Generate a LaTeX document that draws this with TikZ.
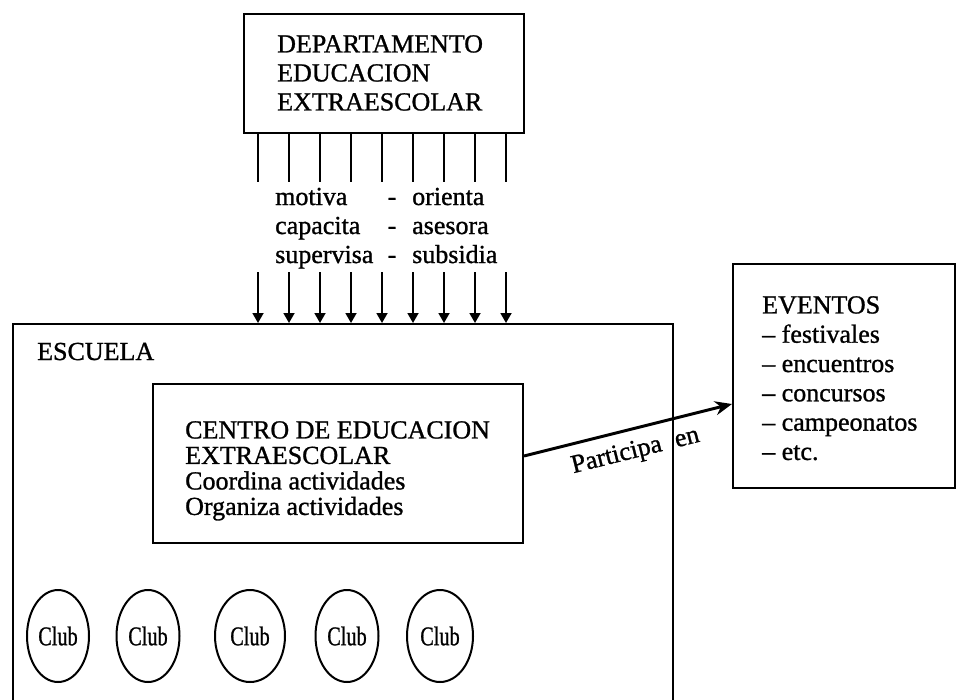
\documentclass[tikz,border=0pt]{standalone}
\usepackage{fontspec}
\setmainfont{Liberation Serif}
\newfontfamily\scanfont{Liberation Serif}[Ligatures=TeX,FakeBold=1]
\usetikzlibrary{arrows.meta,shapes.geometric}
\begin{document}
\begin{tikzpicture}[x=1pt,y=-1pt,
  frame/.style={draw, line width=2pt, rectangle, anchor=north west, inner sep=0pt},
  txt/.style={inner sep=0pt, align=left, font=\scanfont\fontsize{26}{29}\selectfont},
  club/.style={draw, ellipse, line width=2pt, inner sep=0pt, font=\scanfont\fontsize{27}{27}\selectfont},
  feed/.style={line width=1.8pt},
  push/.style={line width=1.8pt, -{Triangle[length=10pt,width=11pt]}},
  part/.style={line width=3pt, -{Stealth[length=17pt,width=14pt]}}
]
\clip (0,0) rectangle (957,699);
\fill[white] (0,0) rectangle (957,699);

% boxes
\node[frame, minimum width=280pt, minimum height=119pt] (dep) at (243,13) {};
\node[frame, minimum width=660pt, minimum height=500pt] (escuela) at (12,323) {};
\node[frame, minimum width=370pt, minimum height=159pt] (centro) at (152,383) {};
\node[frame, minimum width=222pt, minimum height=224pt] (eventos) at (732,263) {};

% texts
\node[txt, anchor=north west] (deptxt) at (277,35) {DEPARTAMENTO\\EDUCACION\\EXTRAESCOLAR};
\node[txt, anchor=base west] (esctxt) at (37,360) {ESCUELA};
\node[txt, anchor=north west, font=\scanfont\fontsize{26}{25.5}\selectfont] (centxt) at (185,421)
  {CENTRO DE EDUCACION\\EXTRAESCOLAR\\Coordina actividades\\Organiza actividades};
\node[txt, anchor=north west, font=\scanfont\fontsize{26}{29.3}\selectfont] (evtxt) at (762,296)
  {EVENTOS\\– festivales\\– encuentros\\– concursos\\– campeonatos\\– etc.};

\foreach \l/\r/\y [count=\k] in {motiva/orienta/205, capacita/asesora/234, supervisa/subsidia/263} {
  \node[txt, anchor=base west] (l\k) at (275,\y) {\l};
  \node[txt, anchor=base] (d\k) at (392,\y) {-};
  \node[txt, anchor=base west] (r\k) at (412,\y) {\r};
}

% feed lines and arrows
\foreach \x [count=\k] in {258,289,320,351,382,413,444,475,506} {
  \coordinate (f\k) at (\x,182);
  \coordinate (s\k) at (\x,272);
  \draw[feed] (dep.south -| f\k) -- (f\k);
  \draw[push] (s\k) -- (s\k |- escuela.north);
}

% participa arrow
\coordinate (pa) at (0,456);
\coordinate (pb) at (0,404);
\draw[part] (centro.east |- pa) -- (eventos.west |- pb)
  node[pos=0.51, below=10pt, sloped, inner sep=0pt, font=\scanfont\fontsize{26}{29}\selectfont] (partlbl) {Participa\hspace{14pt}en};

% clubs
\foreach \x/\w [count=\k] in {58/62, 148/63, 250/70, 347/63, 440/66}
  \node[club, minimum width=\w pt, minimum height=92pt] (c\k) at (\x,636) {\scalebox{0.75}[1]{Club}};
\end{tikzpicture}
\end{document}
